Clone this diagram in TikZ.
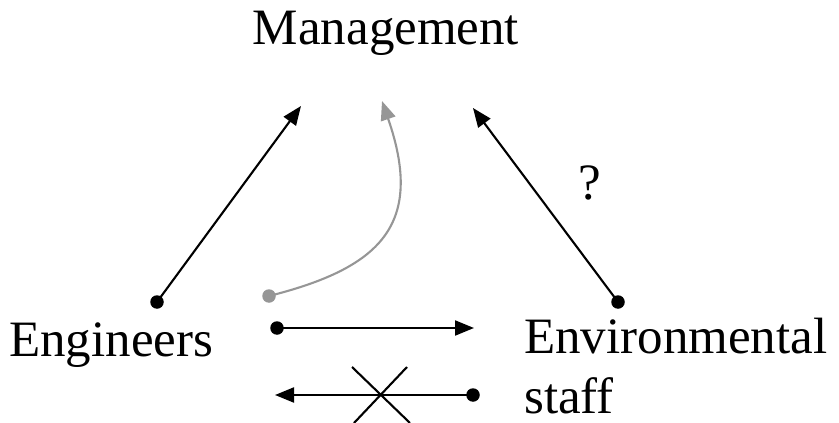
\documentclass[tikz,border=0pt]{standalone}
\usepackage{fontspec}
\setmainfont{Liberation Serif}
\usetikzlibrary{arrows.meta}
\definecolor{mgray}{RGB}{150,150,150}
\begin{document}
\begin{tikzpicture}[x=1pt,y=-1pt,
  lbl/.style={font=\fontsize{51}{58}\selectfont, inner sep=0pt},
  conn/.style={line width=2.1pt, -{Triangle[length=19pt,width=15pt]}},
  dotm/.style={circle, fill=black, inner sep=0pt, minimum size=13.5pt}]
\useasboundingbox (0,0) rectangle (839,423);
\node[lbl] (mgmt) at (386,33) {Management};
\node[lbl, anchor=west] (eng) at (9,345) {Engineers};
\node[lbl, anchor=west] (env) at (524,336) {Environmental};
\node[lbl, anchor=west] (staff) at (524,396) {staff};
\node[lbl] (q) at (590,183) {?};
% dots
\node[dotm] (d1) at (157,302) {};
\node[dotm, fill=mgray] (d2) at (269,296) {};
\node[dotm] (d3) at (618,302) {};
\node[dotm] (d4) at (277,328) {};
\node[dotm] (d5) at (473,395) {};
% tips
\coordinate (t1) at (301,106);
\coordinate (t2) at (382,101);
\coordinate (t3) at (473,108);
\coordinate (t4) at (474,328);
\coordinate (t5) at (275,395);
\coordinate (x1) at (352,367);
\coordinate (x2) at (410,423);
\coordinate (x3) at (407,367);
\coordinate (x4) at (354,423);
\draw[conn] (d1.center) -- (t1);
\draw[conn, draw=mgray] (d2.center) .. controls (380,268) and (425,225) .. (t2);
\draw[conn] (d3.center) -- (t3);
\draw[conn] (d4.center) -- (t4);
\draw[conn] (d5.center) -- (t5);
\draw[line width=2.1pt] (x1) -- (x2);
\draw[line width=2.1pt] (x3) -- (x4);
\end{tikzpicture}
\end{document}
